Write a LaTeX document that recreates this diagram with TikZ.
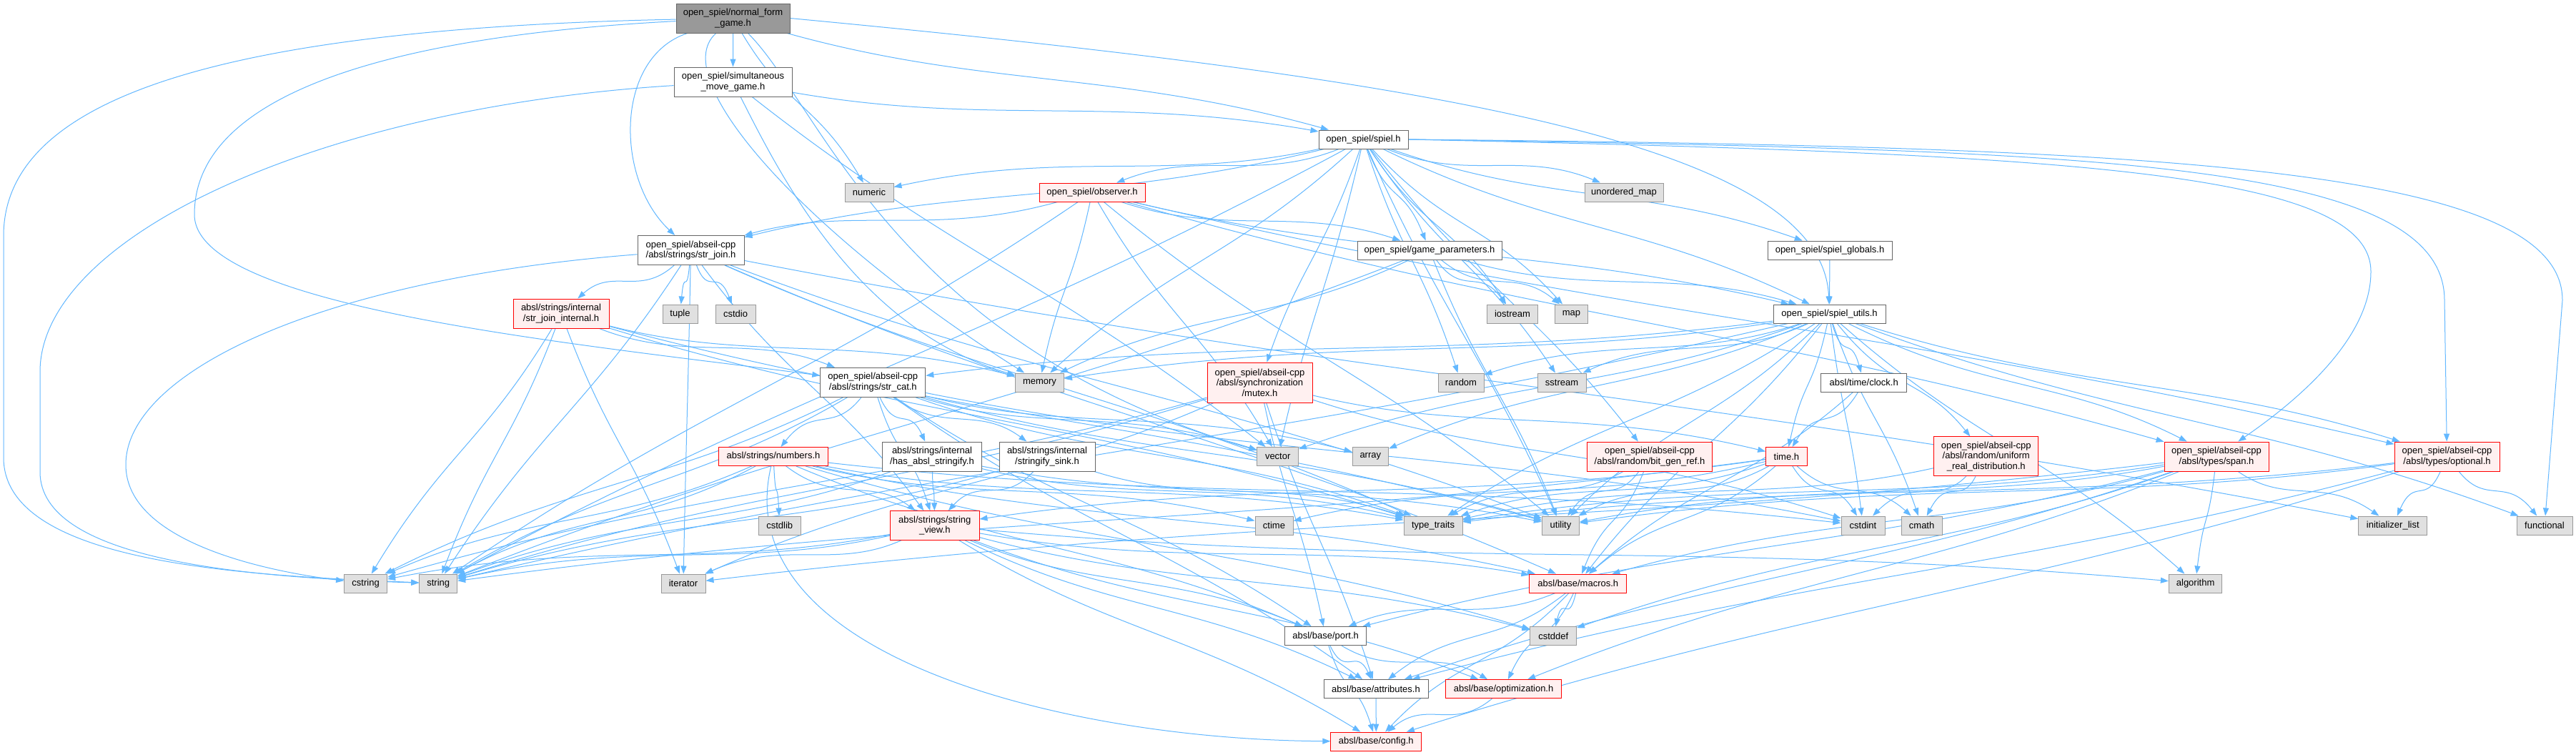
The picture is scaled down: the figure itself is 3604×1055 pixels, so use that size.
\documentclass[tikz,border=0pt]{standalone}
\usepackage{fontspec}
\setmainfont{Liberation Sans}
\usetikzlibrary{arrows.meta,calc}
\pgfdeclarelayer{bg}
\pgfsetlayers{bg,main}
\definecolor{edgec}{HTML}{63B8FF}
\definecolor{redb}{HTML}{FF0000}
\definecolor{redf}{HTML}{FFF0F0}
\definecolor{grayf}{HTML}{E0E0E0}
\definecolor{grayb}{HTML}{999999}
\definecolor{darkb}{HTML}{666666}
\definecolor{topf}{HTML}{999999}
\tikzset{
  box/.style={draw, line width=0.5pt, inner sep=0pt, align=center, font=\fontsize{6.5}{7.2}\selectfont, text=black},
  sysn/.style={box, fill=grayf, draw=grayb},
  locn/.style={box, fill=white, draw=darkb},
  redn/.style={box, fill=redf, draw=redb, line width=0.45pt},
  topn/.style={box, fill=topf, draw=darkb},
  dep/.style={draw=edgec, line width=0.5pt, -{Triangle[length=5.5pt,width=4pt]}},
  sz/.style 2 args={minimum width=#1pt, minimum height=#2pt}
}
\begin{document}
\begin{tikzpicture}[x=0.5pt,y=-0.5pt]
\useasboundingbox (0,0) rectangle (3604,1055);
% nodes
\node[topn,sz={79.5}{20.5}] (nfg) at (1025.5,25.5) {open\_spiel/normal\_form\\\_game.h};
\node[locn,sz={82.5}{20.5}] (sim) at (1025.5,114.5) {open\_spiel/simultaneous\\\_move\_game.h};
\node[locn,sz={62.5}{13}] (spiel) at (1907.5,195) {open\_spiel/spiel.h};
\node[sysn,sz={34}{13}] (numeric) at (1216,269) {numeric};
\node[redn,sz={74}{13}] (observer) at (1528,269) {open\_spiel/observer.h};
\node[sysn,sz={55}{13}] (umap) at (2272,269) {unordered\_map};
\node[locn,sz={74.5}{20.5}] (strjoin) at (966.5,350) {open\_spiel/abseil-cpp\\/absl/strings/str\_join.h};
\node[locn,sz={101}{13}] (gparams) at (2000,350) {open\_spiel/game\_parameters.h};
\node[locn,sz={87}{13}] (sglobals) at (2560,350) {open\_spiel/spiel\_globals.h};
\node[redn,sz={67}{20.5}] (sji) at (785,438.5) {absl/strings/internal\\/str\_join\_internal.h};
\node[sysn,sz={24.5}{13}] (tuple) at (951.5,439) {tuple};
\node[sysn,sz={28}{13}] (cstdio) at (1029,439) {cstdio};
\node[sysn,sz={35.5}{13}] (iostream) at (2116,439) {iostream};
\node[sysn,sz={23}{13}] (map) at (2198.4,439) {map};
\node[locn,sz={78.5}{13}] (sutils) at (2559.5,439) {open\_spiel/spiel\_utils.h};
\node[locn,sz={73.5}{20.5}] (strcat) at (1221.3,534.8) {open\_spiel/abseil-cpp\\/absl/strings/str\_cat.h};
\node[sysn,sz={34}{13}] (memory) at (1454.5,535) {memory};
\node[redn,sz={73.5}{28}] (mutex) at (1762.5,535) {open\_spiel/abseil-cpp\\/absl/synchronization\\/mutex.h};
\node[sysn,sz={32}{13}] (random) at (2044,535) {random};
\node[sysn,sz={34}{13}] (sstream) at (2185,535) {sstream};
\node[locn,sz={60}{13}] (clock) at (2607.7,535) {absl/time/clock.h};
\node[redn,sz={76.5}{13}] (numbers) at (1082,638.5) {absl/strings/numbers.h};
\node[locn,sz={69.5}{20.5}] (hasabsl) at (1304,638.5) {absl/strings/internal\\/has\_absl\_stringify.h};
\node[locn,sz={67}{20.5}] (sink) at (1465,638.5) {absl/strings/internal\\/stringify\_sink.h};
\node[sysn,sz={28.75}{13}] (vector) at (1787.7,638.5) {vector};
\node[sysn,sz={25.25}{13}] (array) at (1917.3,638.5) {array};
\node[redn,sz={87.5}{20.5}] (bitgen) at (2308,638.5) {open\_spiel/abseil-cpp\\/absl/random/bit\_gen\_ref.h};
\node[redn,sz={28.8}{13}] (timeh) at (2499.4,638.5) {time.h};
\node[redn,sz={73}{27.5}] (uniform) at (2778.7,638.4) {open\_spiel/abseil-cpp\\/absl/random/uniform\\\_real\_distribution.h};
\node[redn,sz={73}{20.5}] (span) at (3101,638.5) {open\_spiel/abseil-cpp\\/absl/types/span.h};
\node[redn,sz={73.5}{20.5}] (optional) at (3423.5,638.5) {open\_spiel/abseil-cpp\\/absl/types/optional.h};
\node[sysn,sz={29.5}{13}] (cstdlib) at (1090.7,735) {cstdlib};
\node[redn,sz={62.2}{20.3}] (sview) at (1307.8,735) {absl/strings/string\\\_view.h};
\node[sysn,sz={26.5}{13}] (ctime) at (1782.5,735) {ctime};
\node[sysn,sz={41}{13}] (ttraits) at (2005,735) {type\_traits};
\node[sysn,sz={26}{13}] (utility) at (2183.5,735) {utility};
\node[sysn,sz={30.5}{13}] (cstdint) at (2606.5,735) {cstdint};
\node[sysn,sz={28.5}{13}] (cmath) at (2688.6,735) {cmath};
\node[sysn,sz={48}{13}] (initlist) at (3347.8,735) {initializer\_list};
\node[sysn,sz={39}{13}] (functional) at (3560,735) {functional};
\node[sysn,sz={30}{13}] (cstring) at (511.6,816) {cstring};
\node[sysn,sz={26.5}{13}] (string) at (613.2,816) {string};
\node[sysn,sz={31}{13}] (iterator) at (956,816) {iterator};
\node[redn,sz={68}{13}] (macros) at (2207.8,816) {absl/base/macros.h};
\node[sysn,sz={37.2}{13}] (algorithm) at (3071.6,816) {algorithm};
\node[locn,sz={57}{13}] (port) at (1854.6,889.7) {absl/base/port.h};
\node[sysn,sz={32.25}{13}] (cstddef) at (2173.2,889.7) {cstddef};
\node[locn,sz={73}{13}] (attributes) at (1925,963.7) {absl/base/attributes.h};
\node[redn,sz={81.25}{13}] (optimization) at (2103.6,963.7) {absl/base/optimization.h};
\node[redn,sz={63.5}{13}] (config) at (1925.3,1037) {absl/base/config.h};
\begin{pgfonlayer}{bg}
\fill[white] (0,0) rectangle (3604,1055);
\foreach \src/\tg in {
 nfg/sim, nfg/numeric, nfg/spiel,
 sim/spiel, sim/vector,
 spiel/string, spiel/iostream, spiel/map, spiel/memory, spiel/numeric, spiel/random, spiel/sstream, spiel/umap, spiel/utility, spiel/vector, spiel/bitgen, spiel/strjoin, spiel/mutex, spiel/gparams, spiel/observer, spiel/sglobals, spiel/sutils,
 observer/strjoin, observer/string, observer/memory, observer/vector, observer/utility, observer/gparams, observer/sutils, observer/span, observer/optional,
 gparams/iostream, gparams/map, gparams/memory, gparams/string, gparams/utility, gparams/sutils,
 sglobals/sutils,
 sutils/algorithm, sutils/array, sutils/cmath, sutils/cstdint, sutils/functional, sutils/memory, sutils/random, sutils/sstream, sutils/string, sutils/ttraits, sutils/utility, sutils/vector, sutils/uniform, sutils/strcat, sutils/clock, sutils/optional, sutils/span, sutils/timeh, sutils/macros,
 strjoin/tuple, strjoin/cstdio, strjoin/sji, strjoin/string, strjoin/iterator, strjoin/initlist, strjoin/ttraits, strjoin/utility, strjoin/macros, strjoin/sview,
 sji/cstring, sji/iterator, sji/memory, sji/string, sji/ttraits, sji/utility, sji/strcat,
 strcat/numbers, strcat/hasabsl, strcat/sink, strcat/sview, strcat/array, strcat/cstdint, strcat/cstring, strcat/string, strcat/ttraits, strcat/utility, strcat/vector, strcat/attributes, strcat/port,
 numbers/cstdlib, numbers/cstring, numbers/string, numbers/sview, numbers/ctime, numbers/ttraits, numbers/macros, numbers/port, numbers/cstddef, numbers/cstdint,
 hasabsl/string, hasabsl/ttraits, hasabsl/utility, hasabsl/sview,
 sink/string, sink/sview, sink/ttraits,
 sview/algorithm, sview/cstddef, sview/cstring, sview/iterator, sview/string, sview/attributes, sview/config, sview/macros, sview/optimization, sview/port,
 mutex/timeh, mutex/cstdint, mutex/cstring, mutex/iterator, mutex/string, mutex/attributes, mutex/port,
 bitgen/ttraits, bitgen/utility, bitgen/macros,
 timeh/cmath, timeh/cstdint, timeh/ctime, timeh/string, timeh/ttraits, timeh/utility, timeh/macros, timeh/sview,
 clock/timeh, clock/macros,
 uniform/cmath, uniform/cstdint, uniform/ttraits,
 span/algorithm, span/cstddef, span/initlist, span/iterator, span/ttraits, span/utility, span/attributes, span/macros, span/optimization, span/port,
 optional/config, optional/functional, optional/initlist, optional/ttraits, optional/utility, optional/attributes,
 macros/cstddef, macros/attributes, macros/config, macros/optimization, macros/port,
 port/attributes, port/config, port/optimization,
 attributes/config, optimization/config}
 \draw[dep] (\src) .. controls ($(\src)!0.4!(\tg)+(0,30)$) and ($(\tg)!0.4!(\src)+(0,-30)$) .. (\tg);
% long routed edges
\draw[dep] (nfg) .. controls (300,40) and (5,140) .. (5,330) -- (5,640) .. controls (5,790) and (350,805) .. (string);
\draw[dep] (sim) .. controls (450,150) and (56,330) .. (56,520) -- (56,660) .. controls (56,785) and (350,808) .. (string);
\draw[dep] (nfg) .. controls (550,50) and (272,130) .. (272,300) .. controls (272,430) and (800,480) .. (strcat);
\draw[dep] (strjoin) .. controls (450,390) and (176,520) .. (176,650) .. controls (176,760) and (380,800) .. (cstring);
\draw[dep] (nfg) .. controls (860,80) and (860,250) .. (strjoin);
\draw[dep] (nfg) .. controls (930,110) and (1130,330) .. (memory);
\draw[dep] (nfg) .. controls (1150,150) and (1250,480) .. (vector);
\draw[dep] (sim) .. controls (1094,250) and (1200,460) .. (memory);
\draw[dep] (spiel.east) .. controls (3000,205) and (3585,230) .. (3585,420) -- (functional);
\draw[dep] (spiel.east) .. controls (2900,210) and (3420,220) .. (3420,420) -- (optional);
\draw[dep] (spiel.east) .. controls (2900,215) and (3317,240) .. (3317,380) .. controls (3317,480) and (3200,570) .. (span);
\draw[dep] (nfg.east) .. controls (2000,110) and (2550,200) .. (sutils);
\draw[dep] (numbers) .. controls (1015,920) and (1500,1035) .. (config);
\end{pgfonlayer}
\end{tikzpicture}
\end{document}
